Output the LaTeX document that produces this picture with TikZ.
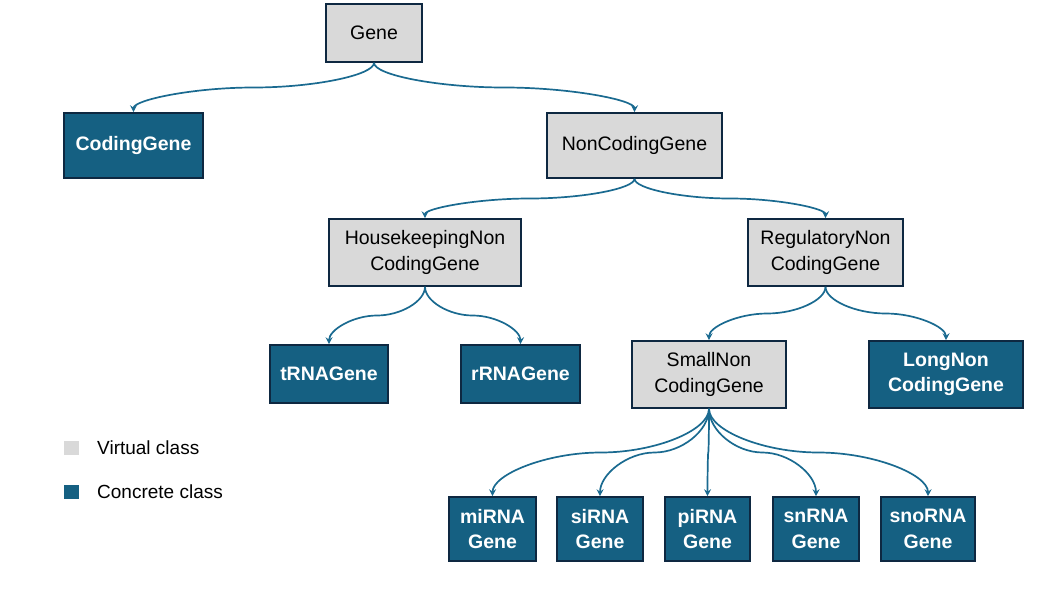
\documentclass[tikz,border=0pt]{standalone}
\usepackage{fontspec}
\setmainfont{Liberation Sans}
\usetikzlibrary{arrows.meta,calc}
\definecolor{concretecol}{HTML}{156082}
\definecolor{virtcol}{HTML}{D9D9D9}
\definecolor{edgecol}{HTML}{0E2841}
\definecolor{linkcol}{HTML}{1A6A90}
\tikzset{
  box/.style={draw=edgecol, line width=1.6pt, inner sep=0pt, align=center},
  virtualbox/.style={box, fill=virtcol, text=black, font=\fontsize{19.5}{25.5}\selectfont},
  concretebox/.style={box, fill=concretecol, text=white, font=\fontsize{19.5}{25.5}\selectfont\bfseries},
  linkline/.style={draw=linkcol, line width=1.7pt, -{Stealth[length=7pt,width=7pt,inset=2.5pt]}},
  legendsq/.style={minimum width=15pt, minimum height=14pt, inner sep=0pt},
  legendtext/.style={anchor=west, inner sep=0pt, font=\fontsize{19}{23}\selectfont, text=black}
}
\newcommand\curvelink[2]{%
  \draw[linkline] let \p1=(#1.south), \p2=(#2.north) in
    (\p1) .. controls (\x1,{\y1+0.25*(\y2-\y1)}) and ({\x1+0.25*(\x2-\x1)},{0.5*(\y1+\y2)}) ..
    ({0.5*(\x1+\x2)},{0.5*(\y1+\y2)}) .. controls ({\x1+0.75*(\x2-\x1)},{0.5*(\y1+\y2)}) and (\x2,{\y1+0.75*(\y2-\y1)}) .. (\p2);}
\begin{document}
\begin{tikzpicture}[x=1pt,y=-1pt]
\useasboundingbox (0,0) rectangle (1056,594);
% level 0
\node[virtualbox, minimum width=96pt, minimum height=58pt] (gene) at (374,33) {Gene};
% level 1
\node[concretebox, minimum width=139pt, minimum height=65pt] (coding) at (133.5,145.5) {CodingGene};
\node[virtualbox, minimum width=175pt, minimum height=65pt] (noncoding) at (634.5,145.5) {NonCodingGene};
% level 2
\node[virtualbox, minimum width=192pt, minimum height=67pt] (hk) at (425,252.5) {HousekeepingNon\\CodingGene};
\node[virtualbox, minimum width=155pt, minimum height=67pt] (reg) at (825.5,252.5) {RegulatoryNon\\CodingGene};
% level 3
\node[concretebox, minimum width=118pt, minimum height=58pt] (trna) at (329,374) {tRNAGene};
\node[concretebox, minimum width=119pt, minimum height=58pt] (rrna) at (520.5,374) {rRNAGene};
\node[virtualbox, minimum width=154pt, minimum height=67pt] (small) at (709,374.5) {SmallNon\\CodingGene};
\node[concretebox, minimum width=154pt, minimum height=67pt] (long) at (946,374.5) {LongNon\\CodingGene};
% level 4
\node[concretebox, minimum width=87pt, minimum height=64pt] (mirna) at (492.5,529) {miRNA\\Gene};
\node[concretebox, minimum width=86pt, minimum height=64pt] (sirna) at (600,529) {siRNA\\Gene};
\node[concretebox, minimum width=85pt, minimum height=64pt] (pirna) at (707.5,529) {piRNA\\Gene};
\node[concretebox, minimum width=86pt, minimum height=64pt] (snrna) at (816,529) {snRNA\\Gene};
\node[concretebox, minimum width=94pt, minimum height=64pt] (snorna) at (928,529) {snoRNA\\Gene};
% connectors
\curvelink{gene}{coding}
\curvelink{gene}{noncoding}
\curvelink{noncoding}{hk}
\curvelink{noncoding}{reg}
\curvelink{hk}{trna}
\curvelink{hk}{rrna}
\curvelink{reg}{small}
\curvelink{reg}{long}
\curvelink{small}{mirna}
\curvelink{small}{sirna}
\curvelink{small}{pirna}
\curvelink{small}{snrna}
\curvelink{small}{snorna}
% legend
\node[legendsq, fill=virtcol] (legv) at (71.5,447.5) {};
\node[legendsq, fill=concretecol] (legc) at (71.5,492) {};
\node[legendtext] (legvt) at (97,447.5) {Virtual class};
\node[legendtext] (legct) at (97,492) {Concrete class};
\end{tikzpicture}
\end{document}
